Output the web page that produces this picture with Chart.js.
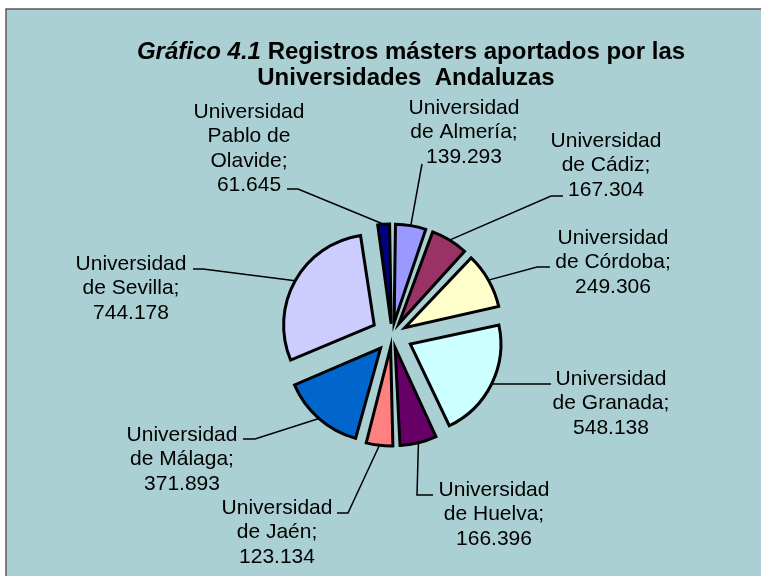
<!DOCTYPE html>
<html>
<head>
<meta charset="utf-8">
<script src="https://cdn.jsdelivr.net/npm/chart.js@4/dist/chart.umd.min.js"></script>
<style>
  html, body { margin: 0; padding: 0; background: #ffffff; }
  #wrap { width: 761px; height: 576px; }
</style>
</head>
<body>
<div id="wrap"><canvas id="chart" width="761" height="576"></canvas></div>
<script>
// Data
const universidades = [
  ['Universidad', 'de Almería;'],
  ['Universidad', 'de Cádiz;'],
  ['Universidad', 'de Córdoba;'],
  ['Universidad', 'de Granada;'],
  ['Universidad', 'de Huelva;'],
  ['Universidad', 'de Jaén;'],
  ['Universidad', 'de Málaga;'],
  ['Universidad', 'de Sevilla;'],
  ['Universidad', 'Pablo de', 'Olavide;']
];
const registros = [139293, 167304, 249306, 548138, 166396, 123134, 371893, 744178, 61645];
const colores = ['#9999FF', '#993366', '#FFFFCC', '#CCFFFF', '#660066', '#FF8080', '#0066CC', '#CCCCFF', '#000080'];

// label layout: text centre x, first line y, leader elbow, leader end near text
const labelPos = [
  { x: 464, y: 108, elbow: null, end: [422, 164] },
  { x: 606, y: 141, elbow: [551, 196], end: [563, 196] },
  { x: 613, y: 238, elbow: [537, 267], end: [550, 267] },
  { x: 611, y: 379, elbow: null, end: [551, 384] },
  { x: 494, y: 490, elbow: [417, 495], end: [433, 495] },
  { x: 277, y: 508, elbow: [348, 513], end: [337, 513] },
  { x: 182, y: 435, elbow: [255, 439], end: [243, 439] },
  { x: 131, y: 264, elbow: [203, 269], end: [193, 269] },
  { x: 249, y: 112, elbow: [298, 189], end: [287, 189] }
];

const FONT = "'Liberation Sans', Arial, sans-serif";
const explode = 21; // px each slice is pulled out
const total = registros.reduce((s, v) => s + v, 0);

// Chart.js arcs move by offset/4 plus an extra amount for thin slices;
// undo that so every slice moves by the same distance
function sliceOffset(c) {
  const circ = c.parsed / total * 2 * Math.PI;
  const fix = 1 - Math.sin(Math.min(Math.PI, circ));
  return explode * 4 / (1 + fix);
}

function fmt(v) {
  return String(v).replace(/\B(?=(\d{3})+(?!\d))/g, '.');
}

const frame = {
  id: 'frame',
  beforeDraw(chart) {
    const ctx = chart.ctx;
    ctx.save();
    ctx.fillStyle = '#ffffff';
    ctx.fillRect(0, 0, chart.width, chart.height);
    ctx.fillStyle = '#AAD0D4';
    ctx.fillRect(6, 9, chart.width, chart.height);
    ctx.strokeStyle = '#5a5a5a';
    ctx.lineWidth = 1.5;
    ctx.beginPath();
    ctx.moveTo(6, chart.height + 2);
    ctx.lineTo(6, 9);
    ctx.lineTo(chart.width + 2, 9);
    ctx.stroke();

    // title
    ctx.fillStyle = '#000';
    ctx.textBaseline = 'middle';
    ctx.textAlign = 'left';
    const a = 'Gráfico 4.1';
    const b = ' Registros másters aportados por las';
    ctx.font = 'italic bold 24px ' + FONT;
    const wa = ctx.measureText(a).width;
    ctx.font = 'bold 24px ' + FONT;
    const wb = ctx.measureText(b).width;
    const x = 411 - (wa + wb) / 2;
    ctx.font = 'italic bold 24px ' + FONT;
    ctx.fillText(a, x, 52);
    ctx.font = 'bold 24px ' + FONT;
    ctx.fillText(b, x + wa, 52);
    ctx.textAlign = 'center';
    ctx.fillText('Universidades  Andaluzas', 406, 78);
    ctx.restore();
  }
};

const labelsPlugin = {
  id: 'labels',
  afterDatasetsDraw(chart) {
    const ctx = chart.ctx;
    const arcs = chart.getDatasetMeta(0).data;
    ctx.save();
    ctx.strokeStyle = '#000';
    ctx.lineWidth = 1.5;
    ctx.fillStyle = '#000';
    ctx.font = '21px ' + FONT;
    ctx.textAlign = 'center';
    ctx.textBaseline = 'middle';
    arcs.forEach((arc, i) => {
      const p = arc.getProps(['x', 'y', 'startAngle', 'endAngle', 'outerRadius'], true);
      const mid = (p.startAngle + p.endAngle) / 2;
      const r = p.outerRadius + explode;
      const ax = p.x + Math.cos(mid) * r;
      const ay = p.y + Math.sin(mid) * r;
      const lp = labelPos[i];
      ctx.beginPath();
      ctx.moveTo(ax, ay);
      if (lp.elbow) ctx.lineTo(lp.elbow[0], lp.elbow[1]);
      ctx.lineTo(lp.end[0], lp.end[1]);
      ctx.stroke();
      const lines = universidades[i].concat([fmt(registros[i])]);
      lines.forEach((t, k) => ctx.fillText(t, lp.x, lp.y + k * 24.5));
    });
    ctx.restore();
  }
};

new Chart(document.getElementById('chart'), {
  type: 'pie',
  data: {
    labels: universidades.map(l => l.join(' ')),
    datasets: [{
      data: registros,
      backgroundColor: colores,
      borderColor: '#000',
      borderWidth: 3,
      borderJoinStyle: 'miter',
      offset: sliceOffset,
      radius: 90
    }]
  },
  options: {
    responsive: false,
    animation: false,
    layout: { padding: { left: 130, right: 107, top: 194, bottom: 100 } },
    plugins: {
      legend: { display: false },
      tooltip: { enabled: false },
      title: { display: false }
    }
  },
  plugins: [frame, labelsPlugin]
});
</script>
</body>
</html>
